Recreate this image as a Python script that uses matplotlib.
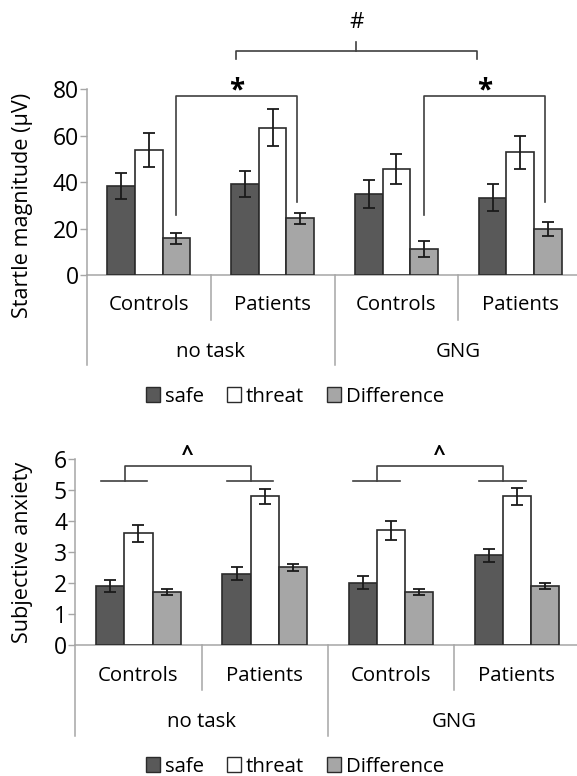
import matplotlib
matplotlib.use('Agg')
import matplotlib.pyplot as plt
from matplotlib.patches import Patch
import numpy as np

plt.rcParams['font.family'] = ['Open Sans', 'DejaVu Sans']

groups = ['Controls', 'Patients', 'Controls', 'Patients']
tasks = ['no task', 'GNG']
series = ['safe', 'threat', 'Difference']

# startle magnitude (uV)
startle_safe = [38.3, 39.2, 35.0, 33.3]
startle_safe_err = [5.7, 5.8, 6.0, 5.8]
startle_threat = [53.7, 63.5, 45.7, 52.9]
startle_threat_err = [7.3, 7.9, 6.6, 7.2]
startle_diff = [15.8, 24.4, 11.2, 19.8]
startle_diff_err = [2.5, 2.3, 3.4, 3.0]

# subjective anxiety
anx_safe = [1.9, 2.3, 2.0, 2.9]
anx_safe_err = [0.2, 0.21, 0.21, 0.21]
anx_threat = [3.6, 4.8, 3.7, 4.8]
anx_threat_err = [0.28, 0.25, 0.3, 0.27]
anx_diff = [1.7, 2.5, 1.7, 1.9]
anx_diff_err = [0.1, 0.1, 0.1, 0.1]

colors = ['#595959', '#ffffff', '#a6a6a6']
axis_gray = '#a6a6a6'
bracket_col = '#404040'
bw = 0.223

fig = plt.figure(figsize=(5.77, 7.76), dpi=100)
ax1 = fig.add_axes([0.1508, 0.6456, 0.858, 0.2393])
ax2 = fig.add_axes([0.1307, 0.1692, 0.8745, 0.2389])


def draw_panel(ax, vals, errs, ymax, step, short_y, long_y, lab_y, task_y):
    x = np.arange(len(groups)) + 0.5
    for i, (v, e) in enumerate(zip(vals, errs)):
        ax.bar(x + (i - 1) * bw, v, bw, color=colors[i], edgecolor='#2b2b2b',
               linewidth=1.2, yerr=e, capsize=4.2,
               error_kw=dict(elinewidth=1.3, capthick=1.3, ecolor='#1a1a1a'), zorder=3)
    ax.set_xlim(0, len(groups))
    ax.set_ylim(0, ymax)
    ax.set_yticks(np.arange(0, ymax + step / 2, step))
    ax.tick_params(axis='y', length=5, width=1, color=axis_gray, labelsize=16.5, pad=1)
    ax.set_xticks([])
    for s in ['top', 'right']:
        ax.spines[s].set_visible(False)
    for s in ['left', 'bottom']:
        ax.spines[s].set_color(axis_gray)
        ax.spines[s].set_linewidth(1.1)
    tr = ax.get_xaxis_transform()
    for b in [1, 3]:
        ax.plot([b, b], [0, short_y], color=axis_gray, lw=1.1, transform=tr, clip_on=False)
    for b in [0, 2, 4]:
        ax.plot([b, b], [0, long_y], color=axis_gray, lw=1.1, transform=tr, clip_on=False)
    for xi, g in zip(x, groups):
        ax.text(xi, lab_y, g, transform=tr, ha='center', va='center', fontsize=14.7)
    for j, t in enumerate(tasks):
        ax.text(1 + 2 * j, task_y, t, transform=tr, ha='center', va='center', fontsize=14.7)


draw_panel(ax1, [startle_safe, startle_threat, startle_diff],
           [startle_safe_err, startle_threat_err, startle_diff_err],
           80, 20, -0.242, -0.485, -0.162, -0.413)
draw_panel(ax2, [anx_safe, anx_threat, anx_diff],
           [anx_safe_err, anx_threat_err, anx_diff_err],
           6, 1, -0.244, -0.492, -0.167, -0.415)

ax1.set_ylabel('Startle magnitude (µV)', fontsize=15.6)
ax1.yaxis.set_label_coords(-0.109, 0.377)
ax2.set_ylabel('Subjective anxiety', fontsize=15.6)
ax2.yaxis.set_label_coords(-0.084, 0.5)

# significance brackets, top panel
for c in [0, 2]:
    xl, xr = c + 0.72, c + 1.7
    ax1.plot([xl, xl, xr, xr], [25.9, 77.1, 77.1, 31.3], color=bracket_col, lw=1.2, clip_on=False)
    ax1.text((xl + xr) / 2, 79.4, '*', ha='center', va='center', fontsize=20, fontweight='bold')
xl, xr = 1.2, 3.15
xm = (xl + xr) / 2
ax1.plot([xl, xl, xr, xr], [92.9, 96.5, 96.5, 92.9], color=bracket_col, lw=1.2, clip_on=False)
ax1.plot([xm, xm], [96.5, 100.4], color=bracket_col, lw=1.2, clip_on=False)
ax1.text(xm, 108.6, '#', ha='center', va='center', fontsize=16)

# brackets, bottom panel
for c in [0, 2]:
    for g in [c, c + 1]:
        ax2.plot([g + 0.2, g + 0.57], [5.29, 5.29], color=bracket_col, lw=1.2, clip_on=False)
    xl, xr = c + 0.39, c + 1.39
    ax2.plot([xl, xl, xr, xr], [5.29, 5.79, 5.79, 5.29], color=bracket_col, lw=1.2, clip_on=False)
    ax2.text((xl + xr) / 2, 6.15, '^', ha='center', va='center', fontsize=15, fontweight='bold')

handles = [Patch(facecolor=c, edgecolor='#2b2b2b', linewidth=1) for c in colors]
for yc in [1 - 396.7 / 776, 1 - 766.7 / 776]:
    fig.legend(handles, series, loc='center', bbox_to_anchor=(295 / 577, yc), ncol=3,
               frameon=False, fontsize=14.7, handlelength=0.7, handleheight=0.7,
               handletextpad=0.25, columnspacing=1.1)

fig.savefig('out.png', dpi=100)
